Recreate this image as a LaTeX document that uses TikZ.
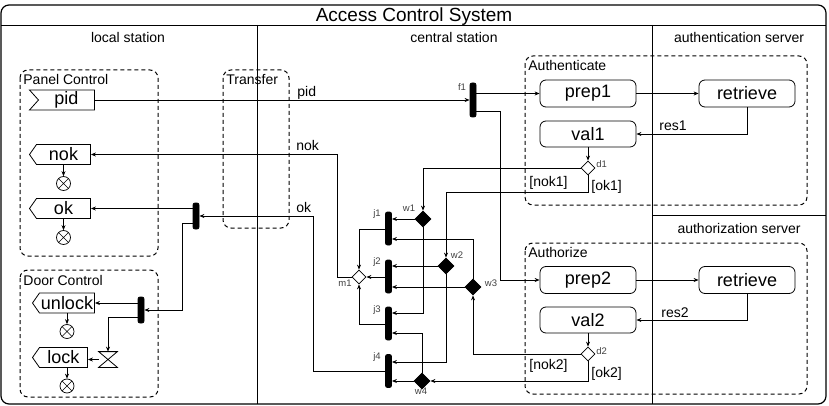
\documentclass[tikz,border=0pt]{standalone}
\usepackage{fontspec}
\setmainfont{Liberation Sans}
\usetikzlibrary{arrows.meta,shapes.geometric,shapes.symbols}
\begin{document}
\begin{tikzpicture}[x=1pt,y=-1pt,
  every node/.style={inner sep=0pt},
  line width=0.8pt,
  arr/.style={-{Stealth[length=5pt,width=4pt]}},
  lane/.style={line width=0.9pt},
  grp/.style={draw,dash pattern=on 4pt off 3pt,rounded corners=8pt,line width=1pt},
  act/.style={draw,rounded corners=6pt,minimum width=96pt,minimum height=27pt,font=\fontsize{18}{18}\selectfont},
  sendsig/.style={draw,signal,signal to=west,signal pointer angle=110,minimum height=20pt,font=\fontsize{18}{18}\selectfont},
  recvsig/.style={draw,signal,signal to=nowhere,signal from=west,signal pointer angle=96,minimum height=20pt,font=\fontsize{18}{18}\selectfont},
  bar/.style={draw,fill=black,rounded corners=2pt,minimum width=6pt,minimum height=33pt},
  dec/.style={draw,diamond,fill=white,minimum width=14pt,minimum height=14pt},
  wdec/.style={draw,diamond,fill=black,minimum width=16pt,minimum height=16pt},
  ffinal/.style={circle,draw,minimum size=14pt,line width=0.7pt,
    path picture={\draw[line width=0.7pt] (path picture bounding box.north west)--(path picture bounding box.south east)
      (path picture bounding box.north east)--(path picture bounding box.south west);}},
  lbl/.style={font=\fontsize{14}{14}\selectfont},
  small/.style={font=\fontsize{9.5}{9.5}\selectfont,text=black!75}
]
\useasboundingbox (0,0) rectangle (829,406);
% frame and lanes
\draw[line width=1.2pt,rounded corners=8pt] (1,5) rectangle (826,404);
\draw[lane] (1,25) -- (826,25);
\draw[lane] (257,25) -- (257,404);
\draw[lane] (652,25) -- (652,404);
\draw[lane] (652,215) -- (826,215);
\node[font=\fontsize{19}{19}\selectfont,anchor=base] (title) at (414,21.5) {Access Control System};
\node[lbl,anchor=base] (l1) at (128,43) {local station};
\node[lbl,anchor=base] (l2) at (454,43) {central station};
\node[lbl,anchor=base] (l3) at (739,43) {authentication server};
\node[lbl,anchor=base] (l4) at (739,233) {authorization server};
% groups
\draw[grp] (20,70) rectangle (158,256);
\draw[grp] (223,70) rectangle (289,228);
\draw[grp] (20,270) rectangle (158,397);
\draw[grp] (525,56) rectangle (807,205);
\draw[grp] (525,243) rectangle (807,394);
\node[lbl,anchor=base west] (g1) at (23,85) {Panel Control};
\node[lbl,anchor=base west] (g2) at (226,85) {Transfer};
\node[lbl,anchor=base west] (g3) at (23,285) {Door Control};
\node[lbl,anchor=base west] (g4) at (528,71) {Authenticate};
\node[lbl,anchor=base west] (g5) at (528,257) {Authorize};
% local station nodes
\node[recvsig,minimum width=65pt] (pid) at (66.5,100) {pid};
\node[sendsig,minimum width=61pt] (nok) at (63.5,154.5) {nok};
\node[sendsig,minimum width=61pt] (ok) at (63.5,208.5) {ok};
\node[sendsig,minimum width=62pt] (unlock) at (67,303) {unlock};
\node[sendsig,minimum width=55pt] (lock) at (63.5,357.5) {lock};
\node[ffinal] (x1) at (63.5,183.5) {};
\node[ffinal] (x2) at (63.5,237.5) {};
\node[ffinal] (x3) at (67,331.5) {};
\node[ffinal] (x4) at (67,386) {};
\node[bar,minimum height=26pt] (f2) at (196,216) {};
\node[bar,minimum height=26pt] (f3) at (141,310) {};
\node[minimum width=18pt,minimum height=15pt] (hg) at (108,359.5) {};
\draw (hg.north west) -- (hg.north east) -- (hg.south west) -- (hg.south east) -- cycle;
% central station
\node[bar,minimum height=34pt] (f1) at (473,100) {};
\node[bar] (j1) at (388.5,228.5) {};
\node[bar] (j2) at (388.5,276.5) {};
\node[bar] (j3) at (388.5,323.5) {};
\node[bar] (j4) at (388.5,371) {};
\node[dec] (m1) at (359,277) {};
\node[wdec] (w1) at (423,219) {};
\node[wdec] (w2) at (446,266) {};
\node[wdec] (w3) at (473,287) {};
\node[wdec] (w4) at (422,381) {};
\node[act] (prep1) at (588,93.5) {prep1};
\node[act] (ret1) at (747,93.5) {retrieve};
\node[act,minimum height=26pt] (val1) at (588,134) {val1};
\node[dec] (d1) at (588,168) {};
\node[act] (prep2) at (588,280) {prep2};
\node[act] (ret2) at (747,280) {retrieve};
\node[act,minimum height=26pt] (val2) at (588,320) {val2};
\node[dec] (d2) at (588,354) {};
% small labels
\node[small] (lf1) at (462,87) {f1};
\node[small,anchor=west] (ld1) at (596,164) {d1};
\node[small,anchor=west] (ld2) at (596,351) {d2};
\node[small] (lj1) at (377,214) {j1};
\node[small] (lj2) at (377,262) {j2};
\node[small] (lj3) at (377,310) {j3};
\node[small] (lj4) at (377,357) {j4};
\node[small] (lm1) at (345,283) {m1};
\node[small] (lw1) at (409,208) {w1};
\node[small] (lw2) at (457,255) {w2};
\node[small] (lw3) at (491,283) {w3};
\node[small] (lw4) at (421,391) {w4};
% connectors
\draw[arr] (pid.east) -- (f1.west |- pid.east);
\node[lbl,anchor=base west] (tpid) at (297,97) {pid};
\draw[arr] (f1.east |- prep1.west) -- (prep1.west);
\draw[arr] (f1.east |- 0,111) -- (500,111) |- (prep2.west);
\draw[arr] (prep1) -- (ret1);
\draw[arr] (ret1.south) |- (val1.east);
\node[lbl,anchor=base west] (tres1) at (659,131) {res1};
\draw[arr] (val1) -- (d1);
\draw[arr] (d1.west) -| (w1.north);
\node[lbl,anchor=base west] (tnok1) at (529,186) {[nok1]};
\draw[arr] (d1.south) -- (588,192) -| (w2.north);
\node[lbl,anchor=base west] (tok1) at (591,190) {[ok1]};
\draw[arr] (prep2) -- (ret2);
\draw[arr] (ret2.south) |- (val2.east);
\node[lbl,anchor=base west] (tres2) at (661,317) {res2};
\draw[arr] (val2) -- (d2);
\draw[arr] (d2.west) -| (w3.south);
\node[lbl,anchor=base west] (tnok2) at (529,369) {[nok2]};
\draw[arr] (d2.south) |- (w4.east);
\node[lbl,anchor=base west] (tok2) at (591,377) {[ok2]};
\draw[arr] (w1.west) -- (j1.east |- w1.west);
\draw[arr] (w1.south) |- (j3.east |- 0,313);
\draw[arr] (w2.west) -- (j2.east |- w2.west);
\draw[arr] (w2.south) |- (j4.east |- 0,362);
\draw[arr] (w3.north) |- (j1.east |- 0,239);
\draw[arr] (w3.west) -- (j2.east |- w3.west);
\draw[arr] (w4.west) -- (j4.east |- w4.west);
\draw[arr] (w4.north) |- (j3.east |- 0,333);
\draw[arr] (j1.west |- 0,229) -| (m1.north);
\draw[arr] (j2.west |- m1.east) -- (m1.east);
\draw[arr] (j3.west |- 0,324) -| (m1.south);
\draw[arr] (m1.west) -- (337,277) |- (nok.east);
\node[lbl,anchor=base west] (tnok) at (296,151) {nok};
\draw[arr] (j4.west |- 0,371) -- (313,371) |- (f2.east |- 0,216);
\node[lbl,anchor=base west] (tok) at (296,212) {ok};
\draw[arr] (f2.west |- ok.east) -- (ok.east);
\draw[arr] (f2.west |- 0,223) -- (182,223) |- (f3.east);
\draw[arr] (f3.west |- unlock.east) -- (unlock.east);
\draw[arr] (f3.west |- 0,317) -| (hg.north);
\draw[arr] (hg.west) -- (lock.east |- hg.west);
\draw[arr] (nok.south) -- (x1.north);
\draw[arr] (ok.south) -- (x2.north);
\draw[arr] (unlock.south) -- (x3.north);
\draw[arr] (lock.south -| x4.north) -- (x4.north);
\end{tikzpicture}
\end{document}
